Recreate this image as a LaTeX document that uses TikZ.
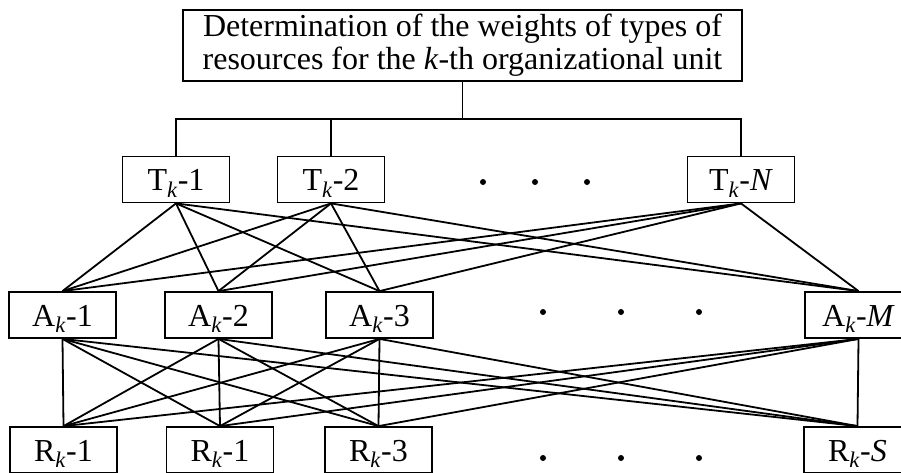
\documentclass[tikz,border=0pt]{standalone}
\usepackage{fontspec}
\setmainfont{Liberation Serif}
\usetikzlibrary{positioning}
\newcommand{\ks}{\textsubscript{\textit{k}}}
\tikzset{
  unitbox/.style={draw, line width=1.8pt, minimum width=107pt, minimum height=46pt,
                  inner sep=0pt, text height=22pt, text depth=0pt},
  link/.style={line width=1.8pt},
  gapdot/.style={fill, circle, inner sep=0pt, minimum size=6pt}
}

\begin{document}
\begin{tikzpicture}[x=1pt, y=-1pt, font=\fontsize{32}{33}\selectfont]
\clip (0,0) rectangle (901,472);
\node[draw, line width=1.8pt, minimum width=559pt, minimum height=71pt, inner sep=0pt,
      align=center] (head) at (462.5,45.5)
  {Determination of the weights of types of\\resources for the \textit{k}-th organizational unit};
\foreach \nm/\lab/\x in {t1/1/176, t2/2/331, tn/\textit{N}/741}{
  \node[unitbox] (\nm) at (\x,179.5) {T\ks-\lab};
}
\foreach \nm/\lab/\x in {a1/1/62.5, a2/2/218.5, a3/3/379.5, am/\textit{M}/858.5}{
  \node[unitbox] (\nm) at (\x,315) {A\ks-\lab};
}
\foreach \nm/\lab/\x in {r1/1/63.5, r2/1/220, r3/3/378.5, rs/\textit{S}/857.5}{
  \node[unitbox] (\nm) at (\x,450) {R\ks-\lab};
}
\coordinate (bus) at (462.5,119);
\draw[link] (head.south) -- (bus);
\foreach \nm in {t1,t2,tn}{
  \draw[link] (bus) -| (\nm.north);
}
\foreach \t in {t1,t2,tn}{
  \foreach \a in {a1,a2,a3,am}{
    \draw[link] (\t.south) -- (\a.north);
  }
}
\foreach \a in {a1,a2,a3,am}{
  \foreach \r in {r1,r2,r3,rs}{
    \draw[link] (\a.south) -- (\r.north);
  }
}
\foreach \x in {483,535,587}{
  \node[gapdot] (tdot\x) at (\x,182) {};
}
\foreach \x in {543,621,699}{
  \node[gapdot] (adot\x) at (\x,312) {};
  \node[gapdot] (rdot\x) at (\x,458) {};
}
\end{tikzpicture}
\end{document}
